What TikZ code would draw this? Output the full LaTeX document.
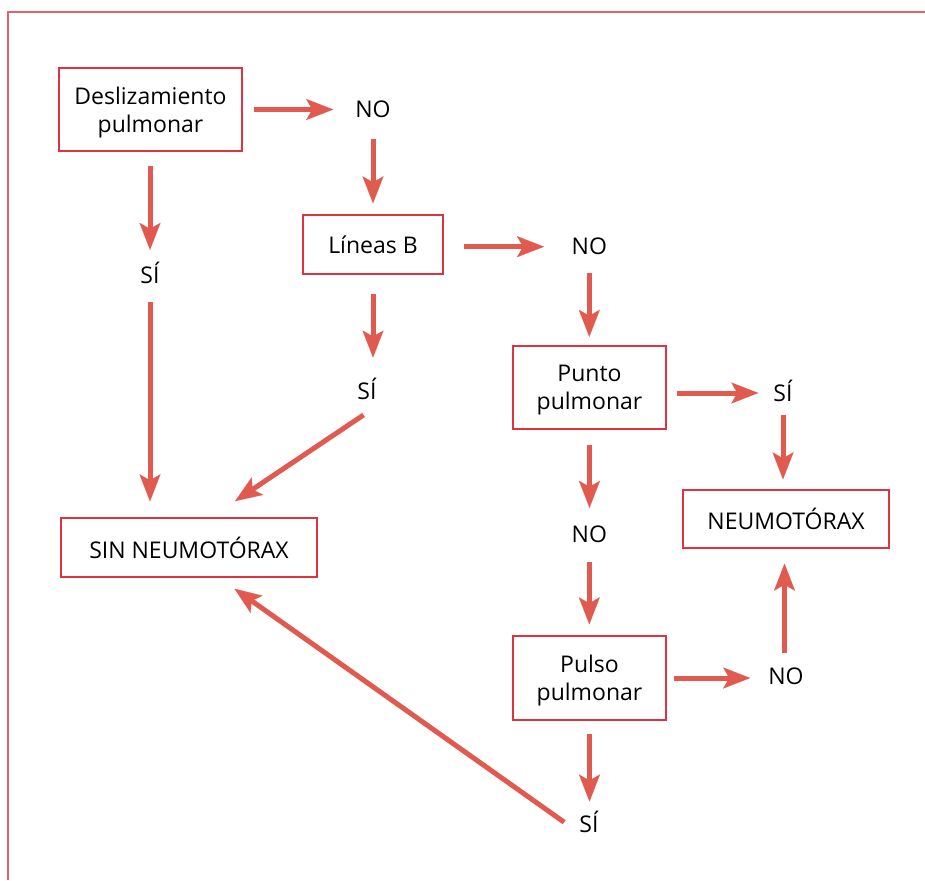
\documentclass[tikz,border=0pt]{standalone}
\usepackage{fontspec}
\setmainfont{Open Sans}
\usetikzlibrary{arrows.meta,calc}

\definecolor{arrowred}{RGB}{224,90,80}
\definecolor{boxred}{RGB}{222,52,66}
\definecolor{framered}{RGB}{230,96,106}

\begin{document}
\begin{tikzpicture}[x=1pt,y=-1pt,
  txt/.style={font=\fontsize{23}{28}\selectfont, text=black},
  box/.style={txt, draw=boxred, line width=1.4pt, inner sep=0pt, align=center, text depth=0pt},
  lbl/.style={txt, inner sep=0pt, text height=16pt, text depth=0pt},
  arr/.style={draw=arrowred, line width=5pt,
    -{Stealth[length=27pt,width=21pt,inset=6pt,line width=0.01pt,fill=arrowred]}}
]
\useasboundingbox (0,0) rectangle (925,880);

% open frame along the top and left edges
\draw[framered, line width=1.5pt] (8,880) -- (8,12) -- (925,12);

% decision boxes
\node[box, minimum width=183pt, minimum height=83pt] (des) at (150.5,109.5) {Deslizamiento\\pulmonar};
\node[box, minimum width=140pt, minimum height=59pt] (lin) at (373,244.5) {Líneas B};
\node[box, minimum width=153pt, minimum height=83pt] (pun) at (589.5,387.5) {Punto\\pulmonar};
\node[box, minimum width=153pt, minimum height=84pt] (pul) at (589.5,678) {Pulso\\pulmonar};
\node[box, minimum width=256pt, minimum height=59pt] (sin) at (189,547.5) {SIN NEUMOTÓRAX};
\node[box, minimum width=206pt, minimum height=58pt] (neu) at (786,519) {NEUMOTÓRAX};

% answer labels
\node[lbl] (no1) at (373,109.7) {NO};
\node[lbl] (si1) at (150,275) {SÍ};
\node[lbl] (no2) at (589.3,246.7) {NO};
\node[lbl] (si2) at (367,391.7) {SÍ};
\node[lbl] (si3) at (783,393) {SÍ};
\node[lbl] (no3) at (589.3,534) {NO};
\node[lbl] (no4) at (786,676) {NO};
\node[lbl] (si4) at (589,824.7) {SÍ};

% connectors
\draw[arr, shorten <=11pt, shorten >=22pt] (des.east) -- (des.east -| no1.west);
\draw[arr, shorten <=21pt, shorten >=11pt] (no1.south) -- (no1.south |- lin.north);
\draw[arr, shorten <=20pt, shorten >=27.5pt] (lin.east |- no2.west) -- (no2.west);
\draw[arr, shorten <=18pt, shorten >=8.5pt] (no2.south) -- (no2.south |- pun.north);
\draw[arr, shorten <=10pt, shorten >=15pt] (pun.east |- si3.west) -- (si3.west);
\draw[arr, shorten <=14pt, shorten >=10pt] (si3.south) -- (si3.south |- neu.north);
\draw[arr, shorten <=15pt, shorten >=18pt] (pun.south) -- (pun.south |- no3.north);
\draw[arr, shorten <=20pt, shorten >=11pt] (no3.south) -- (no3.south |- pul.north);
\draw[arr, shorten <=7pt, shorten >=18pt] (pul.east) -- (pul.east -| no4.west);
\draw[arr, shorten <=15pt, shorten >=15pt] ([xshift=-1.5pt]no4.north) -- ([xshift=-1.5pt]no4.north |- neu.south);
\draw[arr, shorten <=13pt, shorten >=15pt] (pul.south) -- (pul.south |- si4.north);
\draw[arr, shorten <=18.5pt, shorten >=19pt] (si4.south west) -- ([xshift=30pt]sin.south);
\draw[arr, shorten <=14pt, shorten >=17pt] (si1.north |- des.south) -- (si1.north);
\draw[arr, shorten <=19pt, shorten >=16pt] (si1.south) -- (si1.south |- sin.north);
\draw[arr, shorten <=19pt, shorten >=26pt] (lin.south) -- (lin.south |- si2.north);
\draw[arr, shorten <=27pt, shorten >=29pt] ([xshift=19pt]si2.south) -- ([xshift=22pt]sin.north);
\end{tikzpicture}
\end{document}
